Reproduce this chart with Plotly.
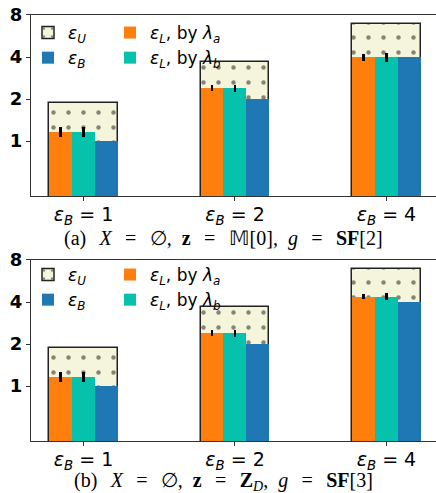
import plotly.graph_objects as go

# ---- data ----
categories = ["<i>ε</i><sub><i>B</i></sub> = 1",
              "<i>ε</i><sub><i>B</i></sub> = 2",
              "<i>ε</i><sub><i>B</i></sub> = 4"]

# panel (a)
eps_U_a = [1.86, 3.66, 6.86]
eps_L_lam_a_a = [1.155, 2.39, 3.98]
err_L_lam_a_a = [0.095, 0.12, 0.22]
eps_L_lam_b_a = [1.155, 2.39, 3.98]
err_L_lam_b_a = [0.095, 0.13, 0.27]
eps_B_a = [1.0, 2.0, 4.0]

# panel (b)
eps_U_b = [1.86, 3.66, 6.86]
eps_L_lam_a_b = [1.155, 2.39, 4.37]
err_L_lam_a_b = [0.095, 0.12, 0.20]
eps_L_lam_b_b = [1.155, 2.39, 4.37]
err_L_lam_b_b = [0.095, 0.13, 0.25]
eps_B_b = [1.0, 2.0, 4.0]

y_ticks = [1, 2, 4, 8]

name_U = "<i>ε</i><sub><i>U</i></sub>"
name_B = "<i>ε</i><sub><i>B</i></sub>"
name_La = "<i>ε</i><sub><i>L</i></sub>, by <i>λ</i><sub><i>a</i></sub>"
name_Lb = "<i>ε</i><sub><i>L</i></sub>, by <i>λ</i><sub><i>b</i></sub>"

C_U = "#f5f5dc"
C_ORANGE = "#ff7f0e"
C_TEAL = "#06c2ac"
C_BLUE = "#1f77b4"

FONT = "DejaVu Sans"
W_ALL = 0.455
W_ONE = W_ALL / 3

fig = go.Figure()


def add_panel(xa, ya, lg1, lg2, U, La, eLa, Lb, eLb, B):
    fig.add_trace(go.Bar(
        x=categories, y=U, name=name_U, xaxis=xa, yaxis=ya, legend=lg1,
        width=W_ALL, offset=-W_ALL / 2,
        marker=dict(color=C_U, line=dict(color="#222", width=1.5),
                    pattern=dict(shape=".", fgcolor="#111", bgcolor=C_U,
                                 size=15, solidity=0.07)),
    ))
    fig.add_trace(go.Bar(
        x=categories, y=La, name=name_La, xaxis=xa, yaxis=ya, legend=lg2,
        width=W_ONE, offset=-W_ALL / 2,
        marker=dict(color=C_ORANGE, line=dict(width=0)),
        error_y=dict(type="data", array=eLa, color="black", thickness=2.2, width=0),
    ))
    fig.add_trace(go.Bar(
        x=categories, y=Lb, name=name_Lb, xaxis=xa, yaxis=ya, legend=lg2,
        width=W_ONE, offset=-W_ALL / 2 + W_ONE,
        marker=dict(color=C_TEAL, line=dict(width=0)),
        error_y=dict(type="data", array=eLb, color="black", thickness=2.2, width=0),
    ))
    fig.add_trace(go.Bar(
        x=categories, y=B, name=name_B, xaxis=xa, yaxis=ya, legend=lg1,
        width=W_ONE, offset=-W_ALL / 2 + 2 * W_ONE,
        marker=dict(color=C_BLUE, line=dict(width=0)),
    ))


add_panel("x", "y", "legend", "legend2",
          eps_U_a, eps_L_lam_a_a, err_L_lam_a_a, eps_L_lam_b_a, err_L_lam_b_a, eps_B_a)
add_panel("x2", "y2", "legend3", "legend4",
          eps_U_b, eps_L_lam_a_b, err_L_lam_a_b, eps_L_lam_b_b, err_L_lam_b_b, eps_B_b)

H = 493.0
W = 436.0
LM = 31


def px_y(p):
    return 1 - p / H


def px_x(p):
    return p / W


xaxis_common = dict(
    range=[-0.3465, 2.327], showgrid=False, zeroline=False,
    showline=True, mirror=True, linecolor="#333", linewidth=1.2,
    ticks="outside", ticklen=4, tickcolor="#333",
    tickfont=dict(family=FONT, size=19, color="black"),
    ticklabelstandoff=-3,
    domain=[LM / W, 1], automargin=False,
)
yaxis_common = dict(
    type="log", range=[-0.394, 0.903], showgrid=False, zeroline=False,
    showline=True, mirror=True, linecolor="#333", linewidth=1.2,
    ticks="outside", ticklen=4, tickcolor="#333",
    tickvals=y_ticks, ticktext=[str(v) for v in y_ticks],
    tickfont=dict(family=FONT, size=18, color="black", weight="bold"),
    automargin=False,
)

legend_common = dict(
    orientation="v", bgcolor="rgba(0,0,0,0)", borderwidth=0,
    font=dict(family=FONT, size=17, color="black"),
    xanchor="left", yanchor="top", tracegroupgap=0, itemwidth=30,
)

fig.update_layout(
    width=436, height=493,
    margin=dict(l=0, r=0, t=0, b=0),
    paper_bgcolor="white", plot_bgcolor="white",
    barmode="overlay", bargap=0,
    font=dict(family=FONT, color="black"),
    xaxis=dict(**xaxis_common, anchor="y"),
    yaxis=dict(**yaxis_common, domain=[px_y(196), px_y(15)], anchor="x"),
    xaxis2=dict(**xaxis_common, anchor="y2"),
    yaxis2=dict(**yaxis_common, domain=[px_y(441), px_y(260)], anchor="x2"),
    legend=dict(**legend_common, x=px_x(28), y=px_y(15)),
    legend2=dict(**legend_common, x=px_x(110), y=px_y(15)),
    legend3=dict(**legend_common, x=px_x(28), y=px_y(257)),
    legend4=dict(**legend_common, x=px_x(110), y=px_y(257)),
    showlegend=True,
)

SP = "\u2004\u2004"
CAP_FONT = dict(family="Liberation Serif", size=20, color="black")
fig.add_annotation(
    text=("(a)" + SP + "<i>X</i>" + SP + "=" + SP + "∅,\u2002<b>z</b>" + SP + "=" + SP
          + "𝕄[0],\u2002<i>g</i>" + SP + "=" + SP + "<b>SF</b>[2]"),
    xref="paper", yref="paper", x=px_x(223), y=px_y(239),
    xanchor="center", yanchor="middle", showarrow=False, font=CAP_FONT,
)
fig.add_annotation(
    text=("(b)" + SP + "<i>X</i>" + SP + "=" + SP + "∅,\u2002<b>z</b>" + SP + "=" + SP
          + "<b>Z</b><sub><i>D</i></sub>,\u2002<i>g</i>" + SP + "=" + SP + "<b>SF</b>[3]"),
    xref="paper", yref="paper", x=px_x(223), y=px_y(481),
    xanchor="center", yanchor="middle", showarrow=False, font=CAP_FONT,
)

fig.write_html("out.html")
